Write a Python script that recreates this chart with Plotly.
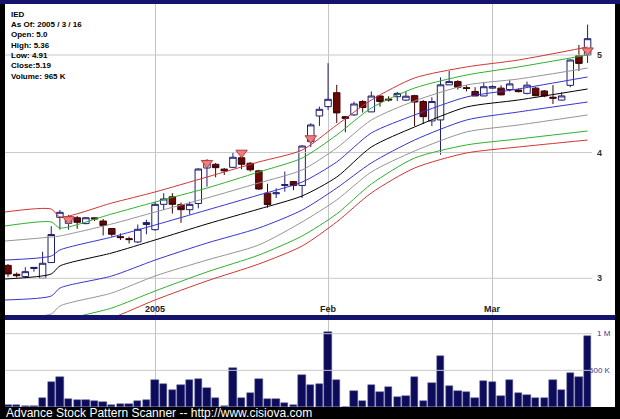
import math
import pandas as pd
import plotly.graph_objects as go

# ---------------- data ----------------
symbol = "IED"
holidays = ["2004-12-24", "2005-01-17", "2005-02-21"]
dates = [d for d in pd.bdate_range("2004-12-08", "2005-03-16")
         if d.strftime("%Y-%m-%d") not in holidays]
idx = list(range(len(dates)))

opens = [3.09, 3.028, 3.012, 3.068, 3.00, 3.11, 3.449, 3.402, 3.446, 3.40,
         3.445, 3.42, 3.362, 3.30, 3.285, 3.26, 3.393, 3.353, 3.553, 3.615,
         3.551, 3.51, 3.56, 3.861, 3.894, 3.851, 3.867, 3.953, 3.903, 3.836,
         3.645, 3.64, 3.71, 3.743, 3.71, 4.101, 4.349, 4.443, 4.587, 4.342,
         4.36, 4.495, 4.39, 4.552, 4.52, 4.545, 4.51, 4.556, 4.495, 4.30,
         4.31, 4.67, 4.705, 4.64, 4.60, 4.553, 4.635, 4.635, 4.62, 4.615,
         4.58, 4.635, 4.605, 4.54, 4.51, 4.665, 4.992, 5.0]
highs = [3.10, 3.04, 3.077, 3.078, 3.188, 3.38, 3.508, 3.468, 3.46, 3.45,
         3.447, 3.436, 3.365, 3.325, 3.30, 3.393, 3.43, 3.571, 3.645, 3.645,
         3.568, 3.575, 3.86, 3.94, 3.905, 3.86, 4.0, 3.99, 3.913, 3.845,
         3.725, 3.687, 3.83, 3.748, 4.07, 4.277, 4.443, 4.907, 4.67, 4.349,
         4.495, 4.51, 4.6, 4.56, 4.55, 4.595, 4.6, 4.565, 4.51, 4.54,
         4.75, 4.82, 4.72, 4.665, 4.645, 4.70, 4.665, 4.665, 4.72, 4.63,
         4.705, 4.65, 4.615, 4.667, 4.59, 4.95, 5.116, 5.36]
lows = [3.01, 3.005, 3.00, 3.046, 2.995, 3.108, 3.353, 3.353, 3.36, 3.395,
        3.42, 3.309, 3.299, 3.275, 3.249, 3.252, 3.318, 3.345, 3.507, 3.479,
        3.406, 3.471, 3.52, 3.70, 3.78, 3.80, 3.86, 3.851, 3.83, 3.673,
        3.525, 3.605, 3.658, 3.67, 3.605, 4.05, 4.251, 4.41, 4.28, 4.19,
        4.35, 4.383, 4.387, 4.443, 4.495, 4.50, 4.50, 4.25, 4.27, 4.25,
        3.98, 4.67, 4.62, 4.60, 4.55, 4.55, 4.63, 4.56, 4.60, 4.59,
        4.57, 4.55, 4.54, 4.47, 4.505, 4.645, 4.82, 4.91]
closes = [3.03, 3.018, 3.046, 3.076, 3.105, 3.316, 3.489, 3.454, 3.41, 3.446,
          3.437, 3.386, 3.318, 3.293, 3.278, 3.356, 3.408, 3.553, 3.597, 3.553,
          3.51, 3.553, 3.852, 3.924, 3.864, 3.836, 3.957, 3.894, 3.845, 3.68,
          3.551, 3.648, 3.717, 3.71, 4.06, 4.261, 4.416, 4.518, 4.38, 4.325,
          4.47, 4.434, 4.552, 4.495, 4.512, 4.58, 4.55, 4.49, 4.342, 4.495,
          4.67, 4.705, 4.645, 4.632, 4.553, 4.65, 4.652, 4.564, 4.68, 4.598,
          4.667, 4.556, 4.553, 4.53, 4.553, 4.943, 4.905, 5.19]
volumes = [27e3, 27e3, 18e3, 18e3, 127e3, 341e3, 409e3, 114e3, 100e3, 100e3,
           82e3, 68e3, 32e3, 45e3, 45e3, 82e3, 91e3, 373e3, 309e3, 236e3,
           300e3, 368e3, 386e3, 264e3, 127e3, 8e3, 532e3, 123e3, 195e3, 386e3,
           105e3, 114e3, 55e3, 23e3, 436e3, 300e3, 309e3, 1027e3, 364e3, 5e3,
           218e3, 82e3, 300e3, 209e3, 273e3, 136e3, 150e3, 414e3, 82e3, 332e3,
           700e3, 291e3, 218e3, 209e3, 127e3, 350e3, 345e3, 145e3, 368e3, 186e3,
           168e3, 123e3, 127e3, 368e3, 227e3, 464e3, 414e3, 965e3]

# pattern signals (red triangles)
signal_idx = [7, 23, 27, 35, 67]
signal_price = [3.434, 3.906, 3.999, 4.133, 5.052]

# band lines at sample bar positions
band_idx = [-0.4, 5, 6, 12, 17, 23, 29, 34, 38, 42, 47, 53, 59, 67]
red_upper = [3.491, 3.515, 3.452, 3.564, 3.655, 3.782, 3.915, 4.023, 4.260, 4.511, 4.744, 4.865, 4.943, 5.092]
green_upper = [3.381, 3.413, 3.366, 3.476, 3.572, 3.688, 3.826, 3.950, 4.164, 4.429, 4.636, 4.776, 4.865, 5.000]
gray_upper = [3.267, 3.297, 3.305, 3.397, 3.491, 3.605, 3.731, 3.844, 4.042, 4.309, 4.501, 4.668, 4.733, 4.853]
blue_upper = [3.128, 3.157, 3.201, 3.297, 3.389, 3.507, 3.630, 3.739, 3.915, 4.183, 4.359, 4.542, 4.626, 4.755]
center = [2.995, 3.030, 3.086, 3.179, 3.275, 3.397, 3.515, 3.622, 3.782, 4.051, 4.241, 4.439, 4.511, 4.626]
blue_lower = [2.855, 2.881, 2.934, 3.016, 3.128, 3.252, 3.366, 3.507, 3.688, 3.906, 4.116, 4.309, 4.389, 4.490]
gray_lower = [2.740, 2.765, 2.816, 2.901, 3.016, 3.128, 3.238, 3.413, 3.589, 3.826, 4.014, 4.193, 4.260, 4.359]
green_lower = [2.635, 2.665, 2.715, 2.803, 2.914, 3.044, 3.164, 3.305, 3.476, 3.722, 3.950, 4.070, 4.126, 4.202]
red_lower = [2.576, 2.605, 2.653, 2.740, 2.855, 2.982, 3.100, 3.230, 3.413, 3.647, 3.861, 3.996, 4.051, 4.116]

price_ticks = [3, 4, 5]
price_labels = ["3", "4", "5"]
volume_ticks = [500e3, 1e6]
volume_labels = ["500 K", "1 M"]
month_start = ["2005-01-03", "2005-02-01", "2005-03-01"]
month_labels = ["2005", "Feb", "Mar"]

info_lines = ["IED", "As Of: 2005 / 3 / 16", "Open: 5.0", "High: 5.36",
              "Low: 4.91", "Close:5.19", "Volume: 965 K"]
info_rows = [14, 24.5, 34.5, 45.3, 55.5, 65.8, 76.3]
footer = "Advance Stock Pattern Scanner -- http://www.cisiova.com"

# ---------------- figure ----------------
W, H = 620, 419
ML, MR, MT, MB = 5, 5, 4, 12
PH = H - MT - MB


def py(p):  # pixel row -> paper y
    return (H - MB - p) / PH


date_str = [d.strftime("%Y-%m-%d") for d in dates]
month_idx = [date_str.index(m) for m in month_start]

X_MIN, X_MAX = -0.347, 70.17
grid_end = 67.5
FONT = "Liberation Sans, Arial, sans-serif"

fig = go.Figure()

for v in price_ticks:
    fig.add_trace(go.Scatter(x=[X_MIN, grid_end], y=[v, v], mode="lines",
                             line=dict(color="#c8c8c8", width=1),
                             hoverinfo="skip", showlegend=False))
for v in volume_ticks:
    fig.add_trace(go.Scatter(x=[X_MIN, grid_end], y=[v, v], mode="lines",
                             line=dict(color="#c8c8c8", width=1),
                             xaxis="x2", yaxis="y2",
                             hoverinfo="skip", showlegend=False))

bands = [
    (red_lower, "#d03535"), (green_lower, "#2fb02f"), (gray_lower, "#959595"),
    (blue_lower, "#3535d0"), (center, "#000000"), (blue_upper, "#3535d0"),
    (gray_upper, "#959595"), (green_upper, "#2fb02f"), (red_upper, "#d03535"),
]
for vals, col in bands:
    fig.add_trace(go.Scatter(x=band_idx, y=vals, mode="lines",
                             line=dict(color=col, width=1, shape="spline", smoothing=0.7),
                             hoverinfo="skip", showlegend=False))

fig.add_trace(go.Candlestick(
    x=idx, open=opens, high=highs, low=lows, close=closes,
    increasing=dict(line=dict(color="#1e1e6e", width=1), fillcolor="#ffffff"),
    decreasing=dict(line=dict(color="#3a0505", width=1), fillcolor="#6a0808"),
    whiskerwidth=0, showlegend=False))

fig.add_trace(go.Scatter(x=signal_idx, y=signal_price, mode="markers",
                         marker=dict(symbol="triangle-down", size=10, color="#f27c7c",
                                     line=dict(color="#b04040", width=1)),
                         showlegend=False, hoverinfo="skip"))

fig.add_trace(go.Bar(x=idx, y=volumes, xaxis="x2", yaxis="y2", width=0.85,
                     marker=dict(color="#0c0c5a", line=dict(color="#5a5a9a", width=0.5)),
                     showlegend=False))

main_dom = [py(315), 1.0]
vol_dom = [0.0, py(320)]
ylog_lo = math.log10(5) - (315 - 55) / 1006.6
ylog_hi = math.log10(5) + (55 - 4) / 1006.6
vol_top = (407 - 320) / 73.3 * 1e6

axis_common = dict(range=[X_MIN, X_MAX], tickvals=month_idx, showticklabels=False,
                   showgrid=True, gridcolor="#c4c4c4", gridwidth=1, zeroline=False,
                   showline=False, ticks="", fixedrange=True)

annotations = []
for t, r in zip(info_lines, info_rows):
    annotations.append(dict(text="<b>%s</b>" % t, xref="paper", yref="paper",
                            x=(9 - ML) / (W - ML - MR), y=py(r),
                            xanchor="left", yanchor="middle", showarrow=False,
                            font=dict(family=FONT, size=8, color="#000000")))
for v, t in zip(price_ticks, price_labels):
    annotations.append(dict(text="<b>%s</b>" % t, xref="x", yref="y", x=67.86, y=math.log10(v),
                            xanchor="left", yanchor="middle", showarrow=False,
                            font=dict(family=FONT, size=9, color="#333333")))
for v, t in zip(volume_ticks, volume_labels):
    annotations.append(dict(text=t, xref="x2", yref="y2", x=69.94, y=v,
                            xanchor="right", yanchor="middle", showarrow=False,
                            font=dict(family=FONT, size=8, color="#3a3a8a")))
for m, t in zip(month_idx, month_labels):
    annotations.append(dict(text="<b>%s</b>" % t, xref="x", yref="paper", x=m, y=py(309),
                            xanchor="center", yanchor="middle", showarrow=False,
                            font=dict(family=FONT, size=9, color="#222222")))
annotations.append(dict(text=footer, xref="paper", yref="paper", x=-1 / (W - ML - MR), y=py(413),
                        xanchor="left", yanchor="middle", showarrow=False,
                        font=dict(family=FONT, size=12, color="#ffffff")))

shapes = [
    dict(type="rect", xref="paper", yref="paper", x0=0, x1=1, y0=vol_dom[1], y1=main_dom[0],
         fillcolor="#14146e", line=dict(width=0), layer="above"),
    dict(type="rect", xref="paper", yref="paper", x0=-0.02, x1=1.02, y0=1.0, y1=1 + MT / PH,
         fillcolor="#14146e", line=dict(width=0), layer="above"),
]

fig.update_layout(
    width=W, height=H, margin=dict(l=ML, r=MR, t=MT, b=MB, pad=0),
    paper_bgcolor="#000000", plot_bgcolor="#ffffff",
    showlegend=False, boxgap=0.25, boxgroupgap=0, bargap=0,
    xaxis=dict(domain=[0, 1], anchor="y", rangeslider=dict(visible=False), **axis_common),
    xaxis2=dict(domain=[0, 1], anchor="y2", matches="x", **axis_common),
    yaxis=dict(domain=main_dom, type="log", range=[ylog_lo, ylog_hi], showgrid=False,
               showticklabels=False, zeroline=False, showline=False, ticks="", fixedrange=True),
    yaxis2=dict(domain=vol_dom, range=[0, vol_top], showgrid=False, showticklabels=False,
                zeroline=False, showline=False, ticks="", fixedrange=True),
    annotations=annotations, shapes=shapes,
    font=dict(family=FONT),
)

fig.write_html("out.html", config={"displayModeBar": False},
               post_script="document.body.style.margin='0';document.body.style.padding='0';"
                           "document.body.style.background='#000';"
                           "document.body.style.overflow='hidden';")
